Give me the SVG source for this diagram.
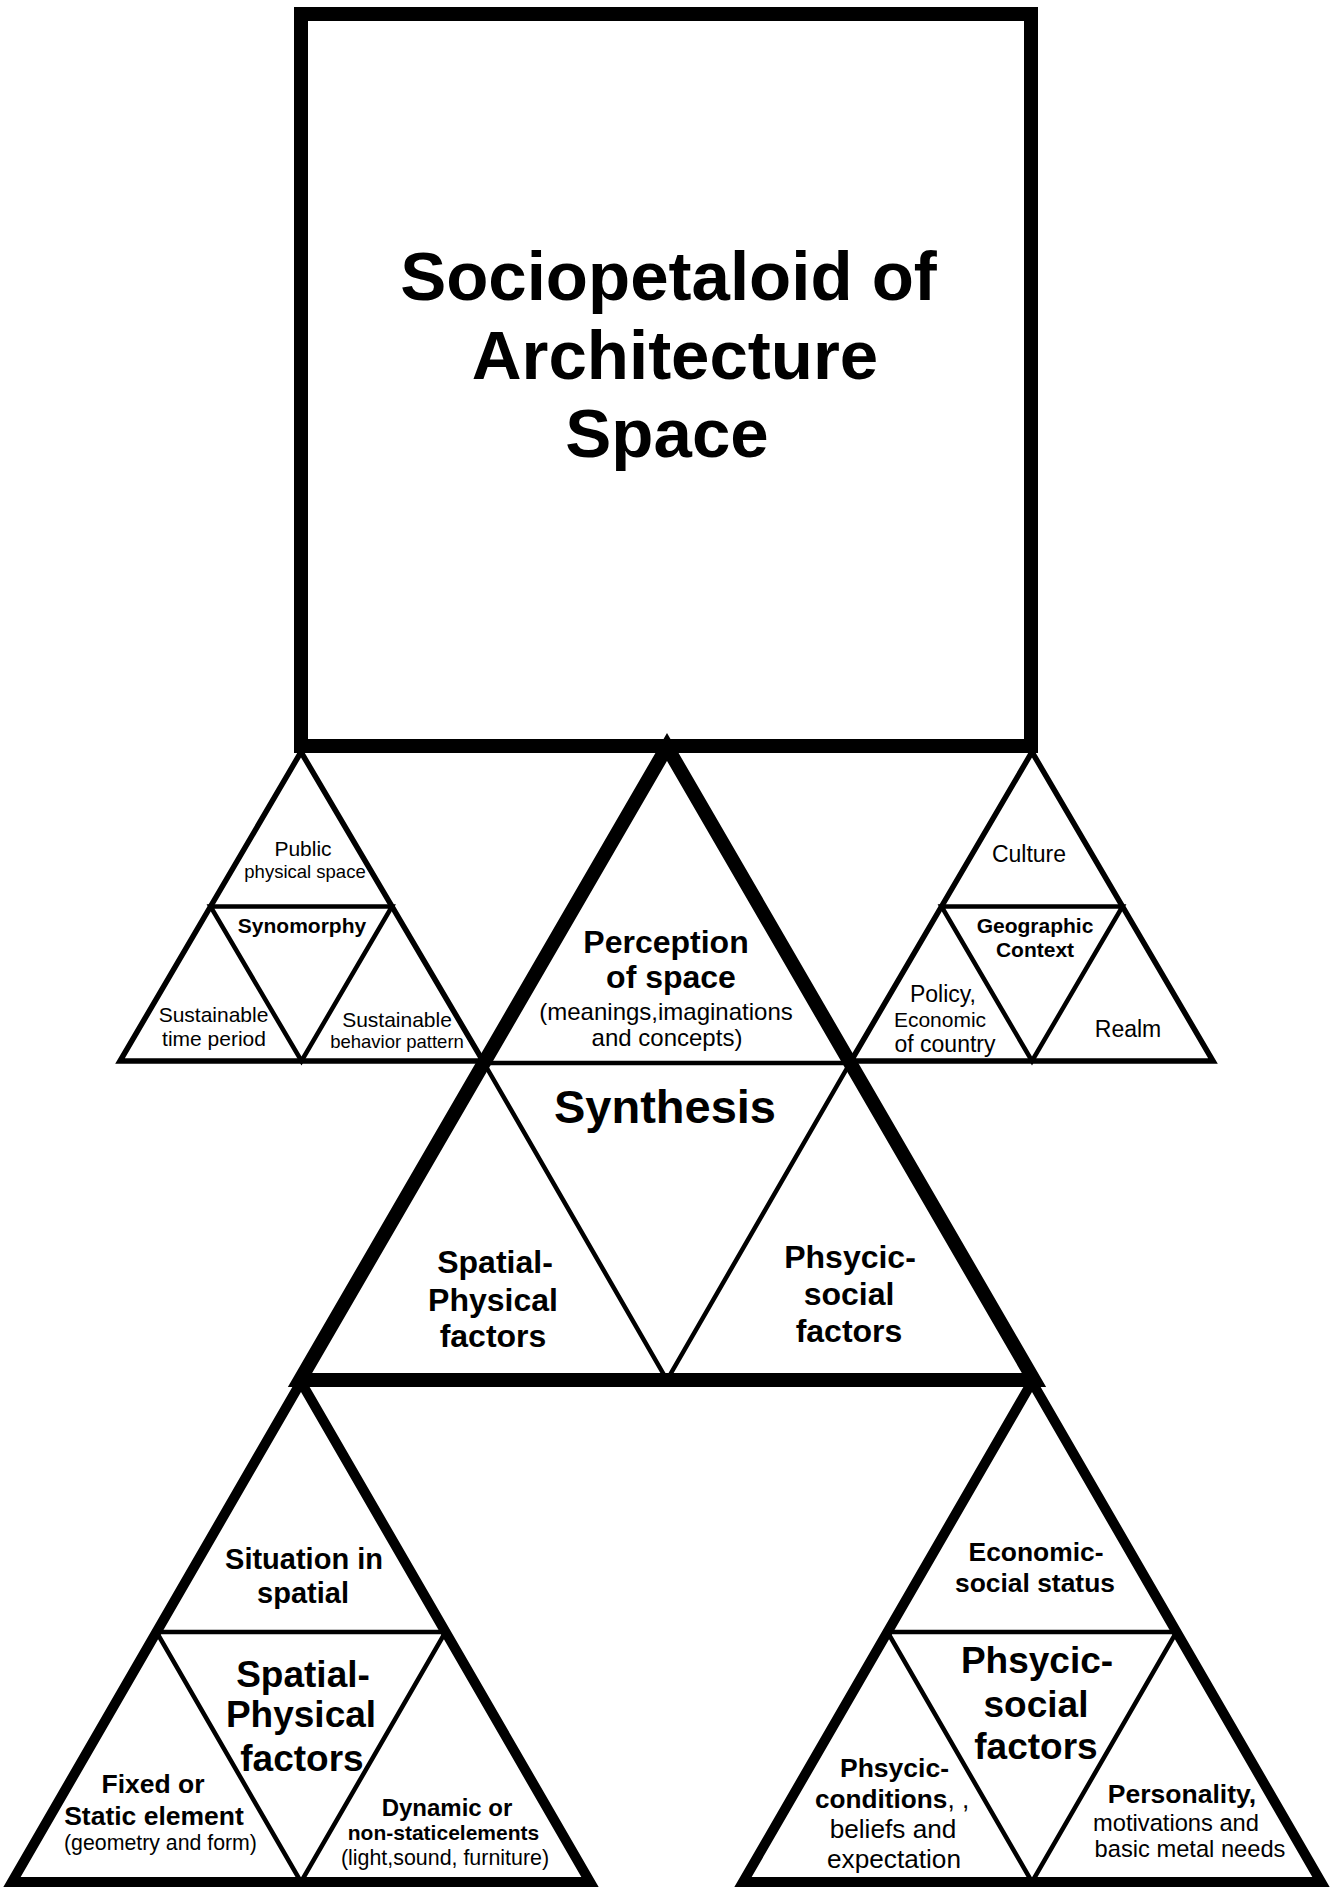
<svg xmlns="http://www.w3.org/2000/svg" width="1334" height="1888" viewBox="0 0 1334 1888">
<style>
.ln{fill:none;stroke:#000;stroke-linejoin:miter;stroke-miterlimit:10}
.w14{stroke-width:14}
.w10{stroke-width:10}
.w55{stroke-width:5.5}
.w4{stroke-width:4.5}
text{font-family:"Liberation Sans",Arial,Helvetica,sans-serif;fill:#000;text-anchor:middle}
.b{font-weight:bold}
</style>
<rect x="0" y="0" width="1334" height="1888" fill="#fff"/>
<g id="title-box">
<rect class="ln w14" x="301" y="14" width="730" height="732"/>
<text class="b" font-size="69" x="668.5" y="300">Sociopetaloid of</text>
<text class="b" font-size="69" x="675" y="379">Architecture</text>
<text class="b" font-size="69" x="667" y="457">Space</text>
</g>
<g id="synomorphy">
<polygon class="ln w55" points="301,752 120,1061 483,1061"/>
<polygon class="ln w4" points="210.5,906.5 392,906.5 301.5,1061"/>
<text font-size="21" x="303" y="856">Public</text>
<text font-size="18.5" x="305" y="878">physical space</text>
<text class="b" font-size="21" x="302" y="933">Synomorphy</text>
<text font-size="21" x="213.5" y="1022">Sustainable</text>
<text font-size="21" x="214" y="1046">time period</text>
<text font-size="21" x="397" y="1027">Sustainable</text>
<text font-size="18.5" x="397" y="1048">behavior pattern</text>
</g>
<g id="geographic-context">
<polygon class="ln w55" points="1032,752 851,1061 1213,1061"/>
<polygon class="ln w4" points="941.5,906.5 1122.5,906.5 1032,1061"/>
<text font-size="23" x="1029" y="862">Culture</text>
<text class="b" font-size="21" x="1035" y="933">Geographic</text>
<text class="b" font-size="21" x="1035" y="957">Context</text>
<text font-size="23" x="943" y="1002">Policy,</text>
<text font-size="21" x="940" y="1027">Economic</text>
<text font-size="23" x="945" y="1052">of country</text>
<text font-size="23" x="1128" y="1037">Realm</text>
</g>
<g id="synthesis">
<polygon class="ln w4" points="484,1063 850,1063 667,1380"/>
<polygon class="ln w14" points="667,747 300,1380 1034,1380"/>
<text class="b" font-size="32" x="666" y="953">Perception</text>
<text class="b" font-size="32" x="671" y="988">of space</text>
<text font-size="24" x="666" y="1020">(meanings,imaginations</text>
<text font-size="24" x="667" y="1046">and concepts)</text>
<text class="b" font-size="47" x="665" y="1123">Synthesis</text>
<text class="b" font-size="32" x="495" y="1273">Spatial-</text>
<text class="b" font-size="32" x="493" y="1311">Physical</text>
<text class="b" font-size="32" x="493" y="1347">factors</text>
<text class="b" font-size="32" x="850" y="1268">Phsycic-</text>
<text class="b" font-size="32" x="849" y="1305">social</text>
<text class="b" font-size="32" x="849" y="1342">factors</text>
</g>
<g id="spatial-physical">
<polygon class="ln w10" points="301,1382 12,1882 590,1882"/>
<polygon class="ln w4" points="156.5,1632 445.5,1632 301,1882"/>
<text class="b" font-size="29" x="304" y="1569">Situation in</text>
<text class="b" font-size="29" x="303" y="1603">spatial</text>
<text class="b" font-size="37" x="303" y="1687">Spatial-</text>
<text class="b" font-size="37" x="301" y="1727">Physical</text>
<text class="b" font-size="37" x="302" y="1771">factors</text>
<text class="b" font-size="26.5" x="153" y="1793">Fixed or</text>
<text class="b" font-size="26.5" x="154" y="1825">Static element</text>
<text font-size="21.3" x="160.5" y="1850">(geometry and form)</text>
<text class="b" font-size="24" x="447" y="1816">Dynamic or</text>
<text class="b" font-size="21" x="443.5" y="1840">non-staticelements</text>
<text font-size="21.4" x="445" y="1865">(light,sound, furniture)</text>
</g>
<g id="phsycic-social">
<polygon class="ln w10" points="1032,1382 743,1882 1321,1882"/>
<polygon class="ln w4" points="887.5,1632 1176.5,1632 1032,1882"/>
<text class="b" font-size="26.4" x="1036" y="1561">Economic-</text>
<text class="b" font-size="26.4" x="1035" y="1592">social status</text>
<text class="b" font-size="37" x="1037" y="1673">Phsycic-</text>
<text class="b" font-size="37" x="1036" y="1717">social</text>
<text class="b" font-size="37" x="1036" y="1759">factors</text>
<text class="b" font-size="26.5" x="894.5" y="1777">Phsycic-</text>
<text font-size="26.2" x="815" y="1808" style="text-anchor:start"><tspan class="b">conditions</tspan>, ,</text>
<text font-size="26.2" x="893" y="1838">beliefs and</text>
<text font-size="26.2" x="894" y="1868">expectation</text>
<text class="b" font-size="26.5" x="1182" y="1803">Personality,</text>
<text font-size="23.7" x="1176" y="1831">motivations and</text>
<text font-size="23.7" x="1190" y="1857">basic metal needs</text>
</g>
</svg>
